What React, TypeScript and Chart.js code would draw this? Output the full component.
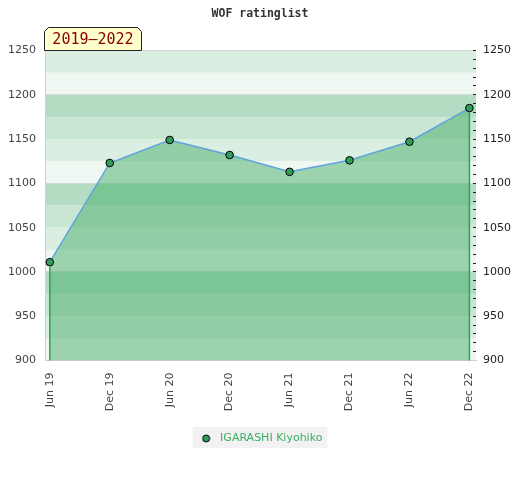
import React, { useEffect, useRef } from "react";
import { Chart, registerables } from "chart.js";

Chart.register(...registerables);

const chartTitle = "WOF ratinglist";
const periodLabel = "2019–2022";
const playerName = "IGARASHI Kiyohiko";
const dateLabels = ["Jun 19", "Dec 19", "Jun 20", "Dec 20", "Jun 21", "Dec 21", "Jun 22", "Dec 22"];
const ratings = [1011, 1123, 1149, 1132, 1113, 1126, 1147, 1185];
const yMin = 900;
const yMax = 1250;
const bandStep = 25;
const bandColors = ["#eff7f2", "#dbeee2", "#c9e6d3", "#b3dcc2"];

const bandsPlugin = {
  id: "bands",
  beforeDraw(chart: any) {
    const { ctx, chartArea, scales } = chart;
    const y = scales.y;
    ctx.save();
    for (let v = yMin; v < yMax; v += bandStep) {
      const idx = Math.floor((((v % 100) + 100) % 100) / bandStep);
      const top = y.getPixelForValue(v + bandStep);
      const bottom = y.getPixelForValue(v);
      ctx.fillStyle = bandColors[idx];
      ctx.fillRect(chartArea.left, top, chartArea.right - chartArea.left, bottom - top);
    }
    // legend background
    const lg = chart.legend;
    if (lg && lg.legendHitBoxes && lg.legendHitBoxes.length) {
      const hb = lg.legendHitBoxes[0];
      ctx.fillStyle = "#f2f2f2";
      ctx.fillRect(hb.left - 5, hb.top - 6, hb.width + 10, hb.height + 10);
    }
    ctx.restore();
  },
};

const edgePlugin = {
  id: "edges",
  afterDatasetsDraw(chart: any) {
    const meta = chart.getDatasetMeta(0);
    const pts = meta.data;
    if (!pts || !pts.length) return;
    const { ctx } = chart;
    const bottom = chart.scales.y.getPixelForValue(yMin);
    ctx.save();
    ctx.strokeStyle = "#2ea356";
    ctx.lineWidth = 1.5;
    [pts[0], pts[pts.length - 1]].forEach((p: any) => {
      ctx.beginPath();
      ctx.moveTo(p.x, p.y + 4);
      ctx.lineTo(p.x, bottom);
      ctx.stroke();
    });
    ctx.restore();
  },
};

const periodPlugin = {
  id: "period",
  afterDraw(chart: any) {
    const { ctx, chartArea } = chart;
    const left = chartArea.left - 0.5;
    const bottom = chartArea.top;
    const w = 97;
    const h = 23;
    const c = 4;
    const top = bottom - h;
    ctx.save();
    ctx.beginPath();
    ctx.moveTo(left, bottom);
    ctx.lineTo(left, top + c);
    ctx.lineTo(left + c, top);
    ctx.lineTo(left + w - c, top);
    ctx.lineTo(left + w, top + c);
    ctx.lineTo(left + w, bottom);
    ctx.closePath();
    ctx.fillStyle = "#ffffcc";
    ctx.fill();
    ctx.strokeStyle = "#222";
    ctx.lineWidth = 1;
    ctx.stroke();
    ctx.fillStyle = "#8b0000";
    ctx.font = '15px "DejaVu Sans Mono"';
    ctx.textAlign = "center";
    ctx.textBaseline = "middle";
    ctx.fillText(periodLabel, left + w / 2, top + h / 2 + 1);
    ctx.restore();
  },
};

function makeLegendDot() {
  const cv = document.createElement("canvas");
  cv.width = 9;
  cv.height = 9;
  const g = cv.getContext("2d");
  if (g) {
    g.beginPath();
    g.arc(4.5, 4.5, 3.5, 0, Math.PI * 2);
    g.fillStyle = "#2e9e5a";
    g.fill();
    g.lineWidth = 1;
    g.strokeStyle = "#000";
    g.stroke();
  }
  return cv;
}

export default function App() {
  const ref = useRef<HTMLCanvasElement | null>(null);

  useEffect(() => {
    if (!ref.current) return;
    const points = ratings.map((r, i) => ({ x: i, y: r }));
    const chart = new Chart(ref.current, {
      type: "line",
      data: {
        datasets: [
          {
            label: playerName,
            data: points,
            fill: "start",
            backgroundColor: "rgba(64,172,100,0.48)",
            borderColor: "#5fa3dc",
            borderWidth: 1.5,
            pointBackgroundColor: "#2e9e5a",
            pointBorderColor: "#000",
            pointBorderWidth: 1,
            pointRadius: 3.8,
            pointHoverRadius: 3.8,
            tension: 0,
          },
        ],
      },
      plugins: [bandsPlugin, edgePlugin, periodPlugin],
      options: {
        animation: false,
        responsive: true,
        maintainAspectRatio: false,
        layout: { padding: { bottom: 18 } },
        plugins: {
          title: {
            display: true,
            text: chartTitle,
            color: "#333",
            font: { family: '"DejaVu Sans Mono"', size: 11.5, weight: "bold", lineHeight: 1 },
            padding: { top: 0, bottom: 31 },
          },
          legend: {
            display: true,
            position: "bottom",
            labels: {
              usePointStyle: true,
              pointStyle: makeLegendDot() as any,
              pointStyleWidth: 17,
              color: "#3aae63",
              font: { family: '"DejaVu Sans"', size: 11 },
              padding: 10,
            },
          },
          tooltip: { enabled: false },
        },
        scales: {
          x: {
            type: "linear",
            min: -0.08,
            max: 7.11,
            afterFit(scale: any) {
              scale.height = 62.5;
            },
            grid: { display: false },
            border: { display: true, color: "#d0d0d0" },
            ticks: {
              stepSize: 1,
              includeBounds: false,
              autoSkip: false,
              maxRotation: 90,
              minRotation: 90,
              padding: 4,
              color: "#444",
              font: { family: '"DejaVu Sans"', size: 11 },
              callback: (v: any) => (Number.isInteger(v) && dateLabels[v] ? dateLabels[v] : ""),
            },
          },
          y: {
            position: "left",
            min: yMin,
            max: yMax,
            afterFit(scale: any) {
              scale.width = 37;
            },
            grid: {
              drawTicks: false,
              color: (c: any) =>
                c.tick && (c.tick.value % 100 === 0 || c.tick.value === yMax) ? "#d6d6d6" : "rgba(0,0,0,0)",
            },
            border: { display: true, color: "#d0d0d0" },
            ticks: {
              stepSize: 50,
              padding: 9,
              color: "#444",
              font: { family: '"DejaVu Sans"', size: 11 },
              callback: (v: any) => String(v),
            },
          },
          y2: {
            position: "right",
            min: yMin,
            max: yMax,
            afterFit(scale: any) {
              scale.width = 36;
            },
            grid: {
              drawOnChartArea: false,
              drawTicks: true,
              tickLength: -3,
              tickColor: "#222",
              tickWidth: 1,
            },
            border: { display: false },
            ticks: {
              stepSize: 10,
              autoSkip: false,
              padding: 10,
              color: "#222",
              font: { family: '"DejaVu Sans"', size: 11 },
              callback: (v: any) => (v % 50 === 0 ? String(v) : ""),
            },
          },
        },
      },
    } as any);
    return () => chart.destroy();
  }, []);

  return (
    <div style={{ position: "relative", width: 504, height: 464 }}>
      <canvas ref={ref} />
    </div>
  );
}
